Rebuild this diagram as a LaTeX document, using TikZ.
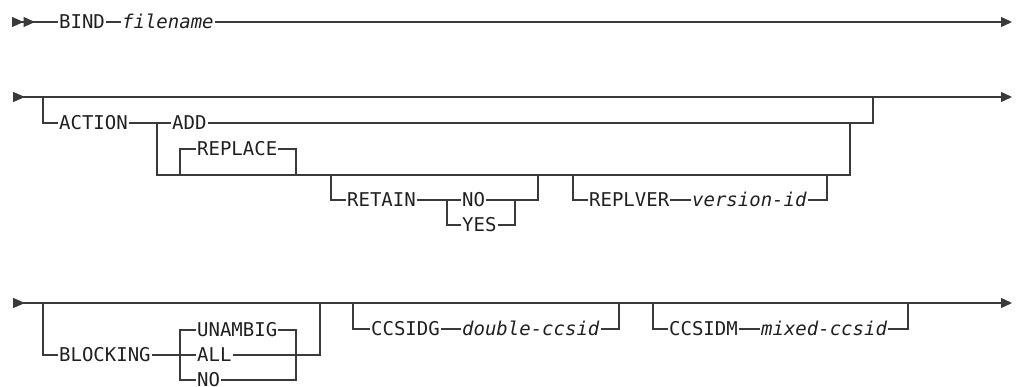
\documentclass[tikz,border=0pt]{standalone}
\usepackage{fontspec}
\setmonofont{DejaVu Sans Mono}
\usetikzlibrary{arrows.meta}
\definecolor{linegray}{HTML}{3A3A3A}
\definecolor{inkgray}{HTML}{202020}
\newcommand{\kwfont}{\ttfamily\fontsize{19}{19}\selectfont}
\begin{document}
\begin{tikzpicture}[x=1pt, y=-1pt, line width=1.3pt, draw=linegray,
    ibmend/.tip={Triangle[length=11pt,width=10pt]},
    ibmbeg/.tip={Triangle[reversed,length=12pt,width=10pt]},
    ibmtwo/.tip={Triangle[reversed,length=11.5pt,width=10pt,sep=0pt] Triangle[reversed,length=11.5pt,width=10pt]},
    rail/.style={ibmbeg-ibmend},
    kw/.style={inner xsep=0.5pt, inner ysep=0pt, text height=13.8pt, text depth=0pt,
        anchor=west, font=\kwfont, text=inkgray},
    var/.style={kw, font=\kwfont\itshape}]
\useasboundingbox (0,0) rectangle (1019,387);
% first line
\coordinate (s1) at (12,22);
\coordinate (e1) at (1012,22);
\node[kw] (bind) at (58,22) {BIND};
\node[var] (fn) at (121,22) {filename};
\draw[ibmtwo-] (s1) -- (bind);
\draw (bind) -- (fn);
\draw[-ibmend] (fn) -- (e1);
% second line
\coordinate (s2) at (13,97);
\coordinate (e2) at (1012,97);
\draw[rail] (s2) -- (e2);
\coordinate (a0) at (43,97);
\coordinate (a1) at (873,97);
\node[kw] (action) at (58,123) {ACTION};
\node[kw] (add) at (171,123) {ADD};
\draw (a0) |- (action);
\draw (action) -- (add) -| (a1);
\coordinate (c0) at (157,123);
\coordinate (c1) at (157,175);
\coordinate (c2) at (850,175);
\coordinate (c3) at (850,123);
\draw (c0) -- (c1) -- (c2) -- (c3);
\coordinate (r0) at (180,175);
\coordinate (r1) at (296,175);
\node[kw] (repl) at (196,149) {REPLACE};
\draw (r0) |- (repl) -| (r1);
\coordinate (t0) at (331,175);
\coordinate (t1) at (447,200);
\coordinate (t2) at (515,200);
\coordinate (t3) at (538,175);
\node[kw] (retain) at (346,200) {RETAIN};
\node[kw] (no) at (461,200) {NO};
\node[kw] (yes) at (461,225) {YES};
\draw (t0) |- (retain);
\draw (retain) -- (no) -| (t3);
\draw (t1) |- (yes) -| (t2);
\coordinate (v0) at (573,175);
\coordinate (v1) at (827,175);
\node[kw] (replver) at (588,200) {REPLVER};
\node[var] (vid) at (691,200) {version-id};
\draw (v0) |- (replver);
\draw (replver) -- (vid) -| (v1);
% third line
\coordinate (s3) at (13,303);
\coordinate (e3) at (1012,303);
\draw[rail] (s3) -- (e3);
\coordinate (k0) at (43,303);
\coordinate (k1) at (320,303);
\coordinate (k2) at (180,330);
\coordinate (k3) at (296,380);
\node[kw] (blocking) at (58,355) {BLOCKING};
\node[kw] (unambig) at (196,330) {UNAMBIG};
\node[kw] (all) at (196,355) {ALL};
\node[kw] (nob) at (196,380) {NO};
\draw (k0) |- (blocking);
\draw (blocking) -- (all) -| (k1);
\draw (unambig) -| (k3) -- (nob);
\draw (nob) -| (k2) -- (unambig);
\coordinate (g0) at (353,303);
\coordinate (g1) at (619,303);
\node[kw] (ccsidg) at (370,329) {CCSIDG};
\node[var] (dccsid) at (461,329) {double-ccsid};
\draw (g0) |- (ccsidg);
\draw (ccsidg) -- (dccsid) -| (g1);
\coordinate (m0) at (653,303);
\coordinate (m1) at (908,303);
\node[kw] (ccsidm) at (668,329) {CCSIDM};
\node[var] (mccsid) at (760,329) {mixed-ccsid};
\draw (m0) |- (ccsidm);
\draw (ccsidm) -- (mccsid) -| (m1);
\end{tikzpicture}
\end{document}
